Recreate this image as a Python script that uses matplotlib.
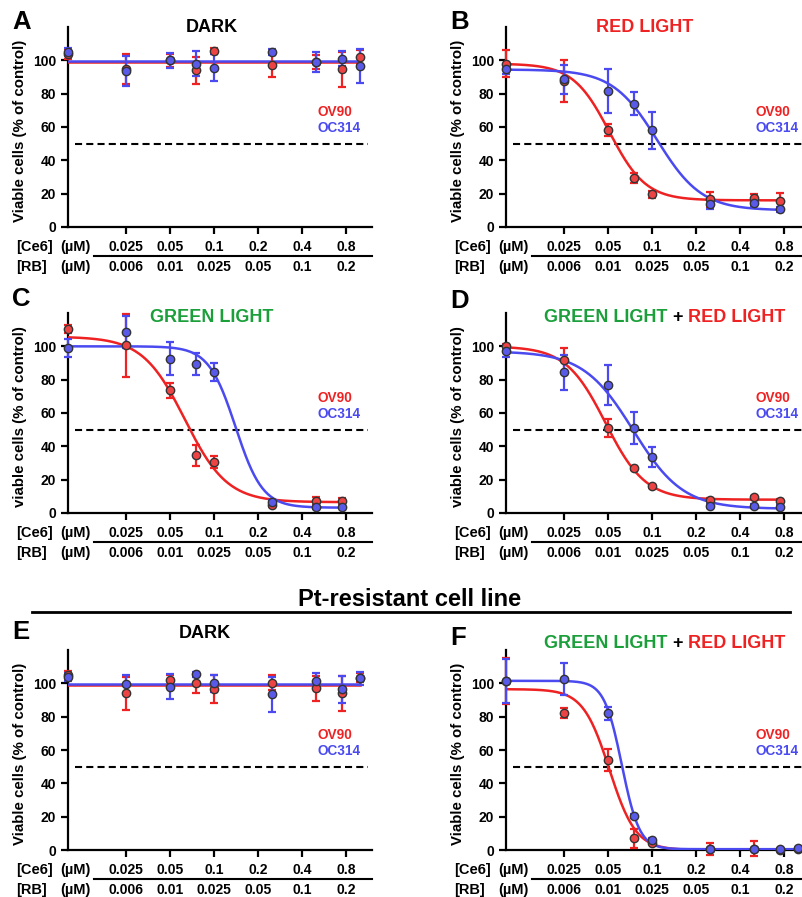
import numpy as np
import matplotlib.pyplot as plt
from matplotlib.lines import Line2D

plt.rcParams['font.family'] = ['Liberation Sans', 'DejaVu Sans']
plt.rcParams['font.weight'] = 'bold'
plt.rcParams['axes.linewidth'] = 1.6

W, H = 803, 897

RED = '#ee2222'
BLUE = '#4a4af0'
RED_FILL = '#ec4444'
BLUE_FILL = '#5a5ae8'
GREEN = '#1a9f3a'

# Ce6 doses (uM) of the measured points
dose8 = [0.01, 0.025, 0.05, 0.075, 0.1, 0.25, 0.5, 0.75]
dose9 = [0.01, 0.025, 0.05, 0.075, 0.1, 0.25, 0.5, 0.75, 1.0]

ce6_ticks = [0.025, 0.05, 0.1, 0.2, 0.4, 0.8]
ce6_labels = ['0.025', '0.05', '0.1', '0.2', '0.4', '0.8']
rb_labels = ['0.006', '0.01', '0.025', '0.05', '0.1', '0.2']

# fits are (top, bottom, IC50, hill)
# A - dark
a_ov90 = [104, 95, 100, 94, 105.5, 97, 99, 94.5, 102]
a_ov90_sd = [3, 9, 4, 8, 2, 7, 4, 10.5, 4]
a_oc314 = [105, 93.5, 100, 98, 95.5, 105, 99, 101, 96.5]
a_oc314_sd = [2.5, 9, 4.5, 7.5, 8, 2, 6, 4.5, 10]
a_ov90_fit = (98.8, 98.8, 0.1, 1.0)
a_oc314_fit = (99.4, 99.4, 0.1, 1.0)

# B - red light
b_ov90 = [98, 87.5, 58, 29.5, 19.5, 16.5, 17.5, 15.5]
b_ov90_sd = [8, 12.5, 3.5, 3, 2, 4.5, 2.5, 5]
b_oc314 = [94.5, 88.5, 81.5, 74, 58, 14, 14.5, 10.5]
b_oc314_sd = [2.5, 8.5, 13, 7, 11, 3, 2, 1.5]
b_ov90_fit = (98, 16, 0.051, 3.5)
b_oc314_fit = (94.5, 10, 0.108, 2.85)

# C - green light
c_ov90 = [110.5, 100.5, 73.5, 34.5, 30.5, 4.5, 7, 7]
c_ov90_sd = [2.5, 19, 4.5, 6.5, 3.5, 1, 2.5, 2.2]
c_oc314 = [99, 108.5, 92.5, 89.5, 84.5, 6.5, 3.3, 3.6]
c_oc314_sd = [5.5, 9.5, 10, 6.5, 5.5, 1, 0.8, 0.8]
c_ov90_fit = (105.8, 6.5, 0.063, 3.0)
c_oc314_fit = (100, 3.2, 0.14, 4.7)

# D - green + red light
d_ov90 = [100, 91.5, 51, 27, 16, 8, 9.3, 7.3]
d_ov90_sd = [1.5, 7.5, 5.5, 1, 1, 1, 1, 1]
d_oc314 = [97, 84.5, 76.5, 51, 33.5, 4.2, 4.2, 3.5]
d_oc314_sd = [3.5, 10.5, 12, 9.5, 6, 1, 1, 1]
d_ov90_fit = (100, 8, 0.048, 3.2)
d_oc314_fit = (97, 2.5, 0.074, 2.55)

# E - dark, Pt-resistant
e_ov90 = [105, 94, 102, 100, 96.5, 100.5, 97, 94, 103.5]
e_ov90_sd = [2.5, 10, 3, 6, 8.5, 4.5, 7.5, 10.5, 2.5]
e_oc314 = [104, 99.5, 98, 105.5, 100, 93.5, 101.5, 96.5, 103]
e_oc314_sd = [2.5, 5.5, 7.5, 1.5, 5, 10.5, 4.5, 8, 4]
e_ov90_fit = (99, 99, 0.1, 1.0)
e_oc314_fit = (99.6, 99.6, 0.1, 1.0)

# F - green + red light, Pt-resistant
f_ov90 = [101.5, 82, 54, 7, 4.5, 0.8, 0.8, 0.2, 0.5]
f_ov90_sd = [14, 3, 6.5, 5.5, 1, 3.5, 4.5, 0.5, 0.5]
f_oc314 = [101.5, 102.5, 82, 20.5, 6, 0.8, 0.8, 0.4, 1.0]
f_oc314_sd = [13, 9.5, 4, 1, 1, 0.5, 0.5, 0.5, 0.5]
f_ov90_fit = (96.5, 0, 0.051, 4.8)
f_oc314_fit = (101.5, 0.5, 0.062, 7.2)


def logistic(x, top, bottom, ic50, hill):
    return bottom + (top - bottom) / (1 + (x / ic50) ** hill)


def fx(x):
    return x / W


def fy(y):
    return 1 - y / H


fig = plt.figure(figsize=(W / 100, H / 100), dpi=100)

AX_W, AX_H = 304, 200


def panel(left, top, doses, ov, ov_sd, ov_fit, oc, oc_sd, oc_fit, ylabel):
    ax = fig.add_axes([fx(left), fy(top + AX_H), AX_W / W, AX_H / H])
    ax.set_xscale('log')
    ax.set_xlim(0.01, 1.2)
    ax.set_ylim(0, 120)
    for s in ['top', 'right']:
        ax.spines[s].set_visible(False)
    ax.set_yticks([0, 20, 40, 60, 80, 100])
    ax.set_xticks(ce6_ticks)
    ax.xaxis.set_minor_locator(plt.NullLocator())
    ax.tick_params(axis='both', length=5, width=1.6, labelsize=10)
    ax.tick_params(axis='x', labelbottom=False)
    for t in ax.get_yticklabels():
        t.set_fontweight('bold')
    ax.set_ylabel(ylabel, fontsize=10.8, fontweight='bold')
    ax.yaxis.set_label_coords(-0.135, 0.48)

    # 50 % line
    ax.plot([0.0112, 1.12], [50, 50], color='k', lw=1.5, dashes=(3.4, 2.0))

    # fitted curves
    xs = np.logspace(np.log10(doses[0]), np.log10(doses[-1]), 300)
    ax.plot(xs, logistic(xs, *ov_fit), color=RED, lw=1.8, zorder=3)
    ax.plot(xs, logistic(xs, *oc_fit), color=BLUE, lw=1.8, zorder=3)

    # points with SD
    for y, sd, c, fc in [(ov, ov_sd, RED, RED_FILL), (oc, oc_sd, BLUE, BLUE_FILL)]:
        ax.errorbar(doses, y, yerr=sd, fmt='none', ecolor=c, elinewidth=1.6,
                    capsize=3, capthick=1.6, zorder=4, clip_on=False)
        ax.plot(doses, y, 'o', ms=6, mfc=fc, mec='#333333', mew=1.0,
                zorder=5, clip_on=False)

    # legend text
    ax.text(0.822, 69, 'OV90', color=RED, fontsize=9.8, va='center',
            transform=ax.get_yaxis_transform())
    ax.text(0.822, 59.5, 'OC314', color=BLUE, fontsize=9.8, va='center',
            transform=ax.get_yaxis_transform())

    # dose rows under the axis
    for x, c6, rb in zip(ce6_ticks, ce6_labels, rb_labels):
        ax.annotate(c6, (x, 0), xycoords=('data', 'axes fraction'),
                    xytext=(0, -20), textcoords='offset pixels',
                    ha='center', va='center', fontsize=10)
        ax.annotate(rb, (x, 0), xycoords=('data', 'axes fraction'),
                    xytext=(0, -40), textcoords='offset pixels',
                    ha='center', va='center', fontsize=10)
    for txt, dx, dy in [('[Ce6]', -52, -20), ('(µM)', -8, -20),
                        ('[RB]', -52, -40), ('(µM)', -8, -40)]:
        ax.annotate(txt, (0, 0), xycoords='axes fraction', xytext=(dx, dy),
                    textcoords='offset pixels', ha='left', va='center',
                    fontsize=10.5)
    ax.plot([26 / AX_W, 1.0], [-29 / AX_H, -29 / AX_H], color='k', lw=1.5,
            transform=ax.transAxes, clip_on=False)
    return ax


panel(68, 27, dose9, a_ov90, a_ov90_sd, a_ov90_fit,
      a_oc314, a_oc314_sd, a_oc314_fit, 'Viable cells (% of control)')
panel(506, 27, dose8, b_ov90, b_ov90_sd, b_ov90_fit,
      b_oc314, b_oc314_sd, b_oc314_fit, 'Viable cells (% of control)')
panel(68, 313, dose8, c_ov90, c_ov90_sd, c_ov90_fit,
      c_oc314, c_oc314_sd, c_oc314_fit, 'viable cells (% of control)')
panel(506, 313, dose8, d_ov90, d_ov90_sd, d_ov90_fit,
      d_oc314, d_oc314_sd, d_oc314_fit, 'viable cells (% of control)')
panel(68, 650, dose9, e_ov90, e_ov90_sd, e_ov90_fit,
      e_oc314, e_oc314_sd, e_oc314_fit, 'Viable cells (% of control)')
panel(506, 650, dose9, f_ov90, f_ov90_sd, f_ov90_fit,
      f_oc314, f_oc314_sd, f_oc314_fit, 'Viable cells (% of control)')

# panel letters
for letter, x, y in [('A', 12, 22), ('B', 450, 22), ('C', 12, 299),
                     ('D', 450, 301), ('E', 12, 632), ('F', 450, 638)]:
    fig.text(fx(x), fy(y), letter, fontsize=18.5, ha='left', va='center')

# panel titles
fig.text(fx(212), fy(28), 'DARK', fontsize=13, ha='center', va='center')
fig.text(fx(645), fy(28), 'RED LIGHT', fontsize=13, ha='center',
         va='center', color=RED)
fig.text(fx(212), fy(317), 'GREEN LIGHT', fontsize=13, ha='center',
         va='center', color=GREEN)
fig.text(fx(205), fy(633), 'DARK', fontsize=13, ha='center', va='center')
for yy in [317, 643]:
    fig.text(fx(668), fy(yy), 'GREEN LIGHT', fontsize=13, ha='right',
             va='center', color=GREEN)
    fig.text(fx(678), fy(yy), '+', fontsize=13, ha='center', va='center')
    fig.text(fx(688), fy(yy), 'RED LIGHT', fontsize=13, ha='left',
             va='center', color=RED)

# section header
fig.text(fx(410), fy(600), 'Pt-resistant cell line', fontsize=17,
         ha='center', va='center')
fig.add_artist(Line2D([fx(32), fx(790)], [fy(612), fy(612)], color='k',
                      lw=2.0))

fig.savefig('out.png', dpi=100)
